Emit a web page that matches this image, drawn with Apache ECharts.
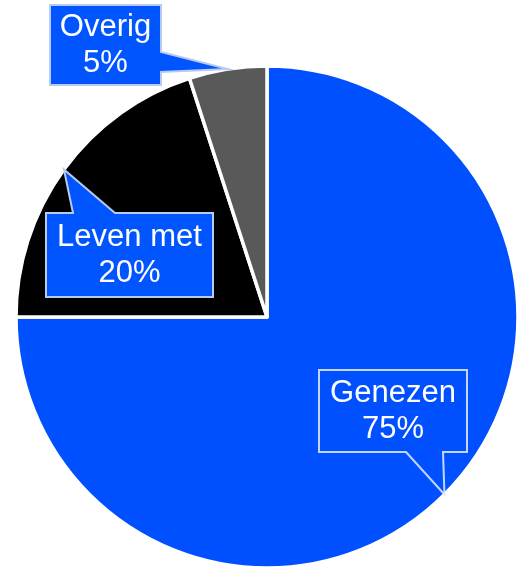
<!DOCTYPE html>
<html>
<head>
<meta charset="utf-8">
<style>
  html, body { margin: 0; padding: 0; background: #fff; }
  #chart { width: 523px; height: 567px; }
</style>
<script src="https://cdn.jsdelivr.net/npm/echarts@6/dist/echarts.min.js"></script>
</head>
<body>
<div id="chart"></div>
<script>
// data
const categories = ['Genezen', 'Leven met', 'Overig'];
const values = [75, 20, 5];
const sliceColors = ['#0050FF', '#000000', '#595959'];

// callout boxes: [x0, y0, x1, y1], side of the pointer and where its base sits on that side
const callouts = [
  { box: [319, 370, 467, 452], side: 'bottom', base: [406, 443], fill: 'transparent', stroke: 'rgba(215,228,255,0.9)' },
  { box: [46, 213, 213, 297], side: 'top', base: [73, 115], fill: '#0055FF', stroke: '#b7caf2' },
  { box: [50, 5, 161, 85], side: 'right', base: [52, 72], fill: '#0055FF', stroke: '#b7caf2' }
];

const chart = echarts.init(document.getElementById('chart'));
const total = values.reduce((a, b) => a + b, 0);

chart.setOption({
  animation: false,
  series: [{
    type: 'pie',
    center: [267, 317],
    radius: 251,
    startAngle: 90,
    clockwise: true,
    label: { show: false },
    labelLine: { show: false },
    itemStyle: { borderColor: '#fff', borderWidth: 3.5 },
    emphasis: { disabled: true },
    data: categories.map((name, i) => ({
      name,
      value: values[i],
      itemStyle: { color: sliceColors[i] }
    }))
  }]
});

// pointer tips come from the pie's own layout (outer edge, mid angle of each slice)
const pieData = chart.getModel().getSeriesByIndex(0).getData();
const elements = [];

callouts.forEach((c, i) => {
  const l = pieData.getItemLayout(i);
  const mid = (l.startAngle + l.endAngle) / 2;
  const tip = [l.cx + l.r * Math.cos(mid), l.cy + l.r * Math.sin(mid)];
  const [x0, y0, x1, y1] = c.box;
  let pts;
  if (c.side === 'bottom') {
    pts = [[x0, y0], [x1, y0], [x1, y1], [c.base[1], y1], tip, [c.base[0], y1], [x0, y1]];
  } else if (c.side === 'top') {
    pts = [[x0, y0], [c.base[0], y0], tip, [c.base[1], y0], [x1, y0], [x1, y1], [x0, y1]];
  } else {
    pts = [[x0, y0], [x1, y0], [x1, c.base[0]], tip, [x1, c.base[1]], [x1, y1], [x0, y1]];
  }
  elements.push({
    type: 'polygon',
    z: 10,
    shape: { points: pts },
    style: { fill: c.fill, stroke: c.stroke, lineWidth: 2, lineJoin: 'miter' },
    silent: true
  });
  const pct = Math.round(values[i] / total * 100);
  elements.push({
    type: 'text',
    z: 11,
    x: (x0 + x1) / 2,
    y: (y0 + y1) / 2,
    style: {
      text: categories[i] + '\n' + pct + '%',
      fill: '#fff',
      font: '31px "Liberation Sans", Arial, sans-serif',
      lineHeight: 36,
      align: 'center',
      verticalAlign: 'middle'
    },
    silent: true
  });
});

chart.setOption({ graphic: { elements } });
</script>
</body>
</html>
